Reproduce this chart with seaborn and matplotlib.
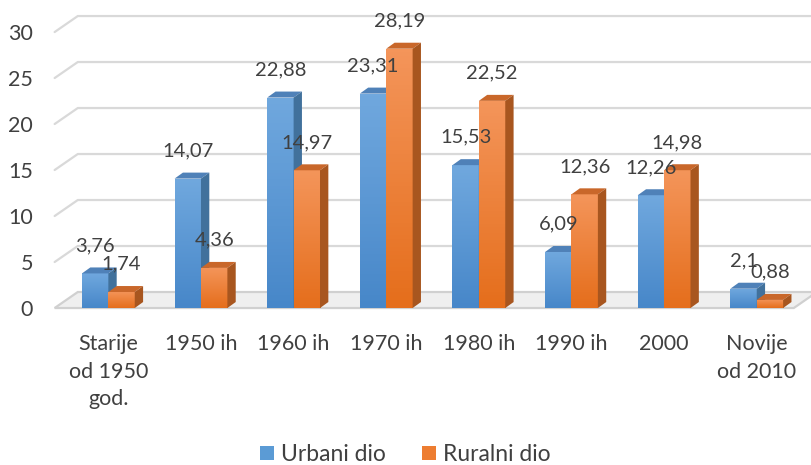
import pandas as pd
import numpy as np
import matplotlib
matplotlib.use("Agg")
import matplotlib.pyplot as plt
import seaborn as sns
from matplotlib.patches import Polygon, Patch
from matplotlib.colors import LinearSegmentedColormap

# Data
categories = ["Starije\nod 1950\ngod.", "1950 ih", "1960 ih", "1970 ih",
              "1980 ih", "1990 ih", "2000", "Novije\nod 2010"]
urbani = [3.76, 14.07, 22.88, 23.31, 15.53, 6.09, 12.26, 2.10]
ruralni = [1.74, 4.36, 14.97, 28.19, 22.52, 12.36, 14.98, 0.88]
series = ["Urbani dio", "Ruralni dio"]
yticks = [0, 5, 10, 15, 20, 25, 30]

df = pd.DataFrame({
    "kat": categories * 2,
    "vrijednost": urbani + ruralni,
    "serija": [series[0]] * len(categories) + [series[1]] * len(categories),
})

front = {"Urbani dio": "#5B9BD5", "Ruralni dio": "#ED7D31"}
grad = {"Urbani dio": ("#4787C9", "#70A8DE"), "Ruralni dio": ("#E56E1C", "#F4955A")}
top = {"Urbani dio": "#4F81B8", "Ruralni dio": "#C9672A"}
side = {"Urbani dio": "#41719C", "Ruralni dio": "#A8561F"}
txt = "#404040"

sns.set_style("white")
plt.rcParams["font.family"] = ["Lato", "DejaVu Sans"]

fig = plt.figure(figsize=(8.11, 4.65), dpi=100)
ax = fig.add_axes([0.0765, 0.3376, 0.9137, 0.5935])

sns.barplot(data=df, x="kat", y="vrijednost", hue="serija", hue_order=series,
            palette=front, width=0.57, saturation=1, legend=False, ax=ax)

ax.set_xlim(-0.5, 7.5)
ax.set_ylim(0, 30)

# depth offsets (data units)
gdx, gdy = 0.25, 1.74   # back wall
bdx, bdy = 0.09, 0.65   # bar depth

# back-wall gridlines with slanted left part
for t in yticks[1:]:
    ax.plot([-0.58, -0.58 + gdx, 7.58], [t, t + gdy, t + gdy],
            color="#D9D9D9", lw=1.6, clip_on=False, zorder=1)

# floor
floor = Polygon([(-0.58, 0), (7.4, 0), (7.4 + gdx, gdy), (-0.58 + gdx, gdy)],
                closed=True, facecolor="#EFEFEF", edgecolor="#D0D0D0",
                lw=1.6, clip_on=False, zorder=1.5)
ax.add_patch(floor)

gy = np.linspace(0, 1, 64).reshape(-1, 1)
n = len(categories)
for i, p in enumerate(ax.patches[:2 * n]):
    s = series[0] if i < n else series[1]
    z = 3 if s == series[0] else 4
    p.set_zorder(z)
    p.set_edgecolor("none")
    x0 = p.get_x()
    x1 = x0 + p.get_width()
    h = p.get_height()
    cmap = LinearSegmentedColormap.from_list(s, grad[s])
    im = ax.imshow(gy, cmap=cmap, aspect="auto", origin="lower",
                   extent=(x0, x1, 0, h), zorder=z + 0.1, clip_on=True)
    im.set_clip_path(p)
    ax.add_patch(Polygon([(x0, h), (x1, h), (x1 + bdx, h + bdy), (x0 + bdx, h + bdy)],
                         closed=True, facecolor=top[s], edgecolor="none",
                         zorder=z + 0.5, clip_on=False))
    ax.add_patch(Polygon([(x1, 0), (x1 + bdx, bdy), (x1 + bdx, h + bdy), (x1, h)],
                         closed=True, facecolor=side[s], edgecolor="none",
                         zorder=z + 0.5, clip_on=False))
    lab = f"{h:.2f}".rstrip("0").rstrip(".").replace(".", ",")
    ax.annotate(lab, (x0 + p.get_width() / 2, h), xytext=(0, 20),
                textcoords="offset points", ha="center", va="center",
                fontsize=14.5, color=txt, zorder=6)

ax.set_xlim(-0.5, 7.5)
ax.set_ylim(0, 30)
ax.set_yticks(yticks)
ax.set_yticklabels([str(t) for t in yticks], fontsize=15.5, color=txt)
ax.tick_params(axis="y", length=0, pad=21)
ax.tick_params(axis="x", length=0, pad=19)
ax.set_xticks(range(n))
ax.set_xticklabels(categories, fontsize=15.5, color=txt, linespacing=1.45, va="top")
ax.set_xlabel("")
ax.set_ylabel("")
sns.despine(ax=ax, left=True, bottom=True)

handles = [Patch(facecolor=front[s], edgecolor="none", label=s) for s in series]
fig.legend(handles=handles, loc="lower center", bbox_to_anchor=(0.5, -0.045), ncol=2,
           frameon=False, fontsize=16.5, labelcolor=txt, handlelength=0.6,
           handleheight=0.6, handletextpad=0.3, columnspacing=1.6)

fig.savefig("out.png", dpi=100)
